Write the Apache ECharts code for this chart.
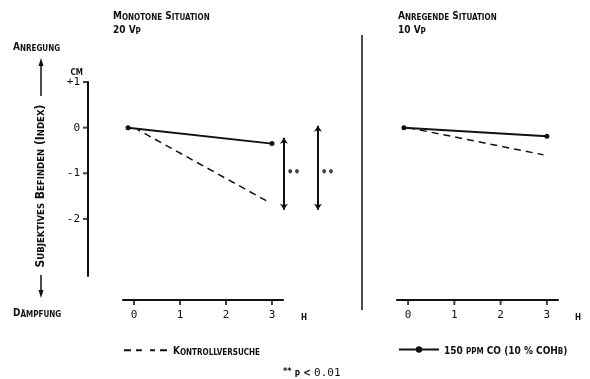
<!DOCTYPE html>
<html lang="de">
<head>
    <meta charset="UTF-8">
    <title>Subjektives Befinden</title>
    <script src="https://cdn.jsdelivr.net/npm/echarts/dist/echarts.min.js"></script>
    <style>
        html, body { margin: 0; padding: 0; background: #fff; }
        #chart { width: 590px; height: 379px; }
    </style>
</head>
<body>
<div id="chart"></div>
<script>
    // --- data ---
    var hourTicks = [0, 1, 2, 3];
    var indexTicks = [1, 0, -1, -2];

    // Monotone Situation (20 Vp)
    var monoCoHours = [-0.13, 3];
    var monoCo = [0, -0.35];
    var monoCtrlHours = [0, 3];
    var monoCtrl = [0, -1.67];

    // Anregende Situation (10 Vp)
    var anrCoHours = [-0.09, 3];
    var anrCo = [0, -0.19];
    var anrCtrlHours = [0, 3];
    var anrCtrl = [0, -0.61];

    // significance arrows (monotone panel), ** p < 0.01
    var sigX = [3.26, 4.0];
    var sigTop = [-0.22, 0.04];
    var sigBottom = [-1.8, -1.8];
    var sigLabelX = [3.47, 4.21];
    var sigLabelY = [-1, -1];

    var NAME_CTRL = 'Kontrollversuche';
    var NAME_CO = '150 ppm CO (10 % COHb)';

    var FONT = 'DejaVu Sans Condensed';
    var MONO = 'DejaVu Sans Mono';
    var INK = '#111';

    // axis extents (the drawn axis lines run past the labelled ticks)
    var X_MIN = -0.24, X_MAX = 3.24, Y_MIN = -3.25, Y_MAX = 1;
    var X_OFFSET = 24, Y_OFFSET = 35, TICK = 5;

    // small caps: capitals big, lower case letters as small capitals
    function smallCaps(s, pre) {
        pre = pre || '';
        var out = '', cur = null, buf = '';
        for (var i = 0; i < s.length; i++) {
            var ch = s[i];
            var t = ch !== ch.toUpperCase() ? 's' : 'b';
            if (cur !== null && t !== cur) { out += '{' + pre + cur + '|' + buf + '}'; buf = ''; }
            cur = t;
            buf += ch.toUpperCase();
        }
        if (buf) out += '{' + pre + cur + '|' + buf + '}';
        return out;
    }
    function tok(size, extra) {
        var o = { fontFamily: FONT, fontSize: size, fontWeight: 'bold', color: INK, lineHeight: 13, verticalAlign: 'bottom' };
        if (extra) for (var k in extra) o[k] = extra[k];
        return o;
    }
    var capsRich = {
        b: tok(10),
        s: tok(8),
        vb: tok(12),
        vs: tok(9.5),
        sup: tok(9, { verticalAlign: 'top', padding: [2, 0, 0, 0] }),
        n: { fontFamily: MONO, fontSize: 11, color: INK, lineHeight: 13, verticalAlign: 'bottom' }
    };

    function zip(xs, ys) { return xs.map(function (x, i) { return [x, ys[i]]; }); }

    function capsText(x, y, str) {
        return {
            type: 'text', silent: true,
            style: { x: x, y: y, text: smallCaps(str), rich: capsRich, verticalAlign: 'middle', align: 'left', fill: INK }
        };
    }

    var chart = echarts.init(document.getElementById('chart'), null, { renderer: 'canvas' });

    var axisLineStyle = { color: INK, width: 2 };

    function xAxisFor(gridIndex, gap) {
        return {
            type: 'value', gridIndex: gridIndex, min: X_MIN, max: X_MAX, offset: X_OFFSET,
            name: smallCaps('h'), nameLocation: 'end', nameGap: gap,
            nameTextStyle: { rich: capsRich, verticalAlign: 'top', padding: [9, 0, 0, 0] },
            axisLine: { onZero: false, lineStyle: axisLineStyle },
            axisTick: { show: false },
            axisLabel: { customValues: hourTicks, margin: 10, fontFamily: MONO, fontSize: 11, color: INK },
            splitLine: { show: false }
        };
    }

    // tick marks: small rects placed by the axes' own scales, pushed onto the offset axis lines
    function xTickSeries(axisIndex) {
        return {
            type: 'scatter', xAxisIndex: axisIndex, yAxisIndex: axisIndex, clip: false, silent: true,
            symbol: 'rect', symbolSize: [2, TICK], symbolOffset: [0, X_OFFSET + TICK / 2],
            itemStyle: { color: INK }, z: 5,
            data: hourTicks.map(function (h) { return [h, Y_MIN]; })
        };
    }

    var ctrlStyle = {
        type: 'line', name: NAME_CTRL, symbol: 'emptyCircle', symbolSize: 5,
        itemStyle: { color: '#fff', borderColor: INK, borderWidth: 1.2 },
        lineStyle: { color: INK, width: 1.5, type: [7, 5] },
        color: INK, z: 3, animation: false
    };
    var coStyle = {
        type: 'line', name: NAME_CO, symbol: 'circle', symbolSize: 5,
        itemStyle: { color: INK },
        lineStyle: { color: INK, width: 2 },
        color: INK, z: 4, animation: false
    };

    var option = {
        animation: false,
        backgroundColor: '#fff',
        grid: [
            { left: 123, top: 82, width: 160, height: 194 },
            { left: 397, top: 82, width: 161, height: 194 }
        ],
        xAxis: [xAxisFor(0, 18), xAxisFor(1, 17)],
        yAxis: [
            {
                type: 'value', gridIndex: 0, min: Y_MIN, max: Y_MAX, offset: Y_OFFSET,
                name: smallCaps('cm'), nameLocation: 'end', nameGap: 5,
                nameTextStyle: { rich: capsRich, align: 'right', padding: [0, 5, 0, 0] },
                axisLine: { show: true, onZero: false, lineStyle: axisLineStyle },
                axisTick: { show: false },
                axisLabel: {
                    customValues: indexTicks, margin: 8, fontFamily: MONO, fontSize: 11, color: INK,
                    formatter: function (v) { return v > 0 ? '+' + v : String(v); }
                },
                splitLine: { show: false }
            },
            { type: 'value', gridIndex: 1, min: Y_MIN, max: Y_MAX, show: false, axisLine: { onZero: false }, splitLine: { show: false } }
        ],
        legend: [
            {
                data: [NAME_CTRL], left: 118, top: 341, itemWidth: 44, itemHeight: 8, itemGap: 6,
                selectedMode: false, formatter: function (n) { return smallCaps(n); }, textStyle: { rich: capsRich }
            },
            {
                data: [NAME_CO], left: 393, top: 341, itemWidth: 40, itemHeight: 8, itemGap: 6,
                selectedMode: false, formatter: function (n) { return smallCaps(n); }, textStyle: { rich: capsRich }
            }
        ],
        series: [
            Object.assign({}, ctrlStyle, { xAxisIndex: 0, yAxisIndex: 0, data: zip(monoCtrlHours, monoCtrl) }),
            Object.assign({}, coStyle, { xAxisIndex: 0, yAxisIndex: 0, data: zip(monoCoHours, monoCo) }),
            Object.assign({}, ctrlStyle, { xAxisIndex: 1, yAxisIndex: 1, data: zip(anrCtrlHours, anrCtrl) }),
            Object.assign({}, coStyle, { xAxisIndex: 1, yAxisIndex: 1, data: zip(anrCoHours, anrCo) }),
            xTickSeries(0),
            xTickSeries(1),
            {
                type: 'scatter', xAxisIndex: 0, yAxisIndex: 0, clip: false, silent: true,
                symbol: 'rect', symbolSize: [TICK, 2], symbolOffset: [-(Y_OFFSET + TICK / 2), 0],
                itemStyle: { color: INK }, z: 5,
                data: indexTicks.map(function (v) { return [X_MIN, v]; })
            },
            {
                type: 'lines', coordinateSystem: 'cartesian2d', xAxisIndex: 0, yAxisIndex: 0,
                clip: false, silent: true, symbol: ['arrow', 'arrow'], symbolSize: 6,
                lineStyle: { color: INK, width: 2, opacity: 1 },
                data: sigX.map(function (x, i) { return { coords: [[x, sigTop[i]], [x, sigBottom[i]]] }; })
            },
            {
                type: 'scatter', xAxisIndex: 0, yAxisIndex: 0, clip: false, silent: true,
                symbolSize: 0,
                label: { show: true, position: 'inside', formatter: '••', fontFamily: FONT, fontWeight: 'bold', fontSize: 12, color: INK },
                data: zip(sigLabelX, sigLabelY)
            }
        ],
        graphic: [
            capsText(113, 15, 'Monotone Situation'),
            capsText(113, 29, '20 Vp'),
            capsText(398, 15, 'Anregende Situation'),
            capsText(398, 29, '10 Vp'),
            capsText(13, 46, 'Anregung'),
            capsText(13, 312, 'Dämpfung'),
            {
                type: 'text', silent: true, x: 40, y: 186, rotation: Math.PI / 2,
                style: { x: 0, y: 0, text: smallCaps('Subjektives Befinden (Index)', 'v'), rich: capsRich, align: 'center', verticalAlign: 'middle', fill: INK }
            },
            // arrows of the verbal scale
            { type: 'polyline', silent: true, shape: { points: [[41, 96], [41, 62]] }, style: { stroke: INK, lineWidth: 1.5 } },
            { type: 'polygon', silent: true, shape: { points: [[38.5, 66], [43.5, 66], [41, 58]] }, style: { fill: INK } },
            { type: 'polyline', silent: true, shape: { points: [[41, 275], [41, 293]] }, style: { stroke: INK, lineWidth: 1.5 } },
            { type: 'polygon', silent: true, shape: { points: [[38.5, 290], [43.5, 290], [41, 298]] }, style: { fill: INK } },
            // divider between the panels
            { type: 'line', silent: true, shape: { x1: 362, y1: 35, x2: 362, y2: 310 }, style: { stroke: INK, lineWidth: 1.5 } },
            // footnote
            {
                type: 'text', silent: true,
                style: { x: 283, y: 372, text: '{sup|**} ' + smallCaps('p <') + ' {n|0.01}', rich: capsRich, verticalAlign: 'middle', fill: INK }
            }
        ]
    };

    chart.setOption(option);
</script>
</body>
</html>
